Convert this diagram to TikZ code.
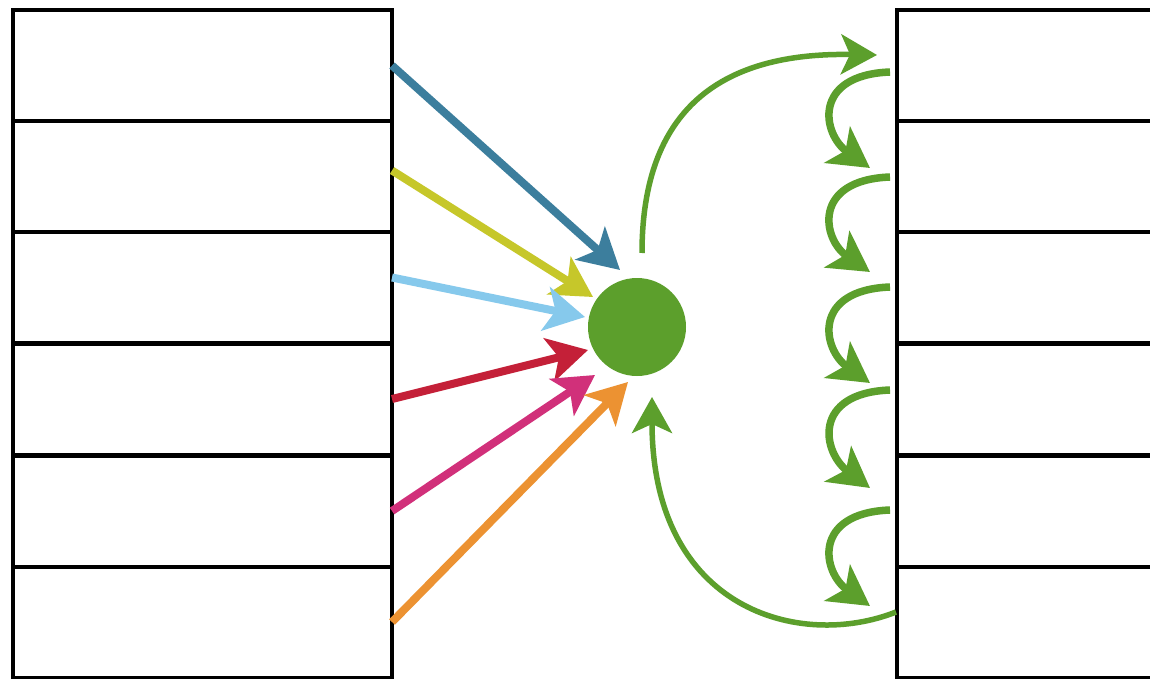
\documentclass[tikz,border=0pt]{standalone}
\usetikzlibrary{arrows.meta}
\definecolor{cteal}{HTML}{3C7E9D}
\definecolor{cyell}{HTML}{C6C72A}
\definecolor{clblue}{HTML}{86C9EC}
\definecolor{cred}{HTML}{C42038}
\definecolor{cmag}{HTML}{D1307A}
\definecolor{corange}{HTML}{EC9232}
\definecolor{cgreen}{HTML}{5C9F2C}
\begin{document}
\begin{tikzpicture}[x=1pt,y=-1pt,
  row/.style={draw=black, line width=4pt, minimum width=379pt, minimum height=111pt, inner sep=0pt, outer sep=0pt},
  rrow/.style={row, minimum width=268pt},
  inarrow/.style={line width=8pt, -{Stealth[length=40pt,width=44pt,inset=10pt]}},
  bigarc/.style={draw=cgreen, line width=5.5pt, -{Stealth[length=36pt,width=40pt,inset=9pt]}},
  looparrow/.style={draw=cgreen, line width=7.5pt, -{Stealth[length=40pt,width=44pt,inset=10pt]}}]
\useasboundingbox (0,0) rectangle (1150,679);
\clip (0,0) rectangle (1150,679);
\fill[white] (0,0) rectangle (1150,679);

% left stack
\node[row] (L1) at (202.5,65.5) {};
\node[row] (L2) at (202.5,176.5) {};
\node[row] (L3) at (202.5,287.5) {};
\node[row] (L4) at (202.5,399) {};
\node[row] (L5) at (202.5,511) {};
\node[row] (L6) at (202.5,622) {};

% right stack
\node[rrow] (R1) at (1031,65.5) {};
\node[rrow] (R2) at (1031,176.5) {};
\node[rrow] (R3) at (1031,287.5) {};
\node[rrow] (R4) at (1031,399) {};
\node[rrow] (R5) at (1031,511) {};
\node[rrow] (R6) at (1031,622) {};

% central circle
\node[circle, fill=cgreen, minimum size=98pt, inner sep=0pt] (C) at (637,327) {};

% arrow tips near the circle
\coordinate (t1) at (620,270);
\coordinate (t2) at (593,297);
\coordinate (t3) at (585,317);
\coordinate (t4) at (588,350);
\coordinate (t5) at (595,375);
\coordinate (t6) at (628,382);

\draw[inarrow, cteal] (L1.east) -- (t1);
\draw[inarrow, cyell] ([yshift=6pt]L2.east) -- (t2);
\draw[inarrow, clblue] ([yshift=10pt]L3.east) -- (t3);
\draw[inarrow, cred] (L4.east) -- (t4);
\draw[inarrow, cmag] (L5.east) -- (t5);
\draw[inarrow, corange] (L6.east) -- (t6);

% big green arcs
\coordinate (a1) at (642,253);
\coordinate (a2) at (877,55);
\draw[bigarc] (a1) .. controls (642,110) and (720,52) .. (a2);

\coordinate (b1) at (896,612);
\coordinate (b2) at (652,397);
\draw[bigarc] (b1) .. controls (800,650) and (652,610) .. (b2);

% small looping arrows
\foreach \i/\ys/\ye in {1/72/168, 2/177/272, 3/287/383, 4/390/488, 5/510/606} {
  \coordinate (s\i) at (890,\ys);
  \coordinate (e\i) at (870,\ye);
  \draw[looparrow] (s\i) .. controls (812,\ys+3) and (822,\ys+62) .. (e\i);
}
\end{tikzpicture}
\end{document}
